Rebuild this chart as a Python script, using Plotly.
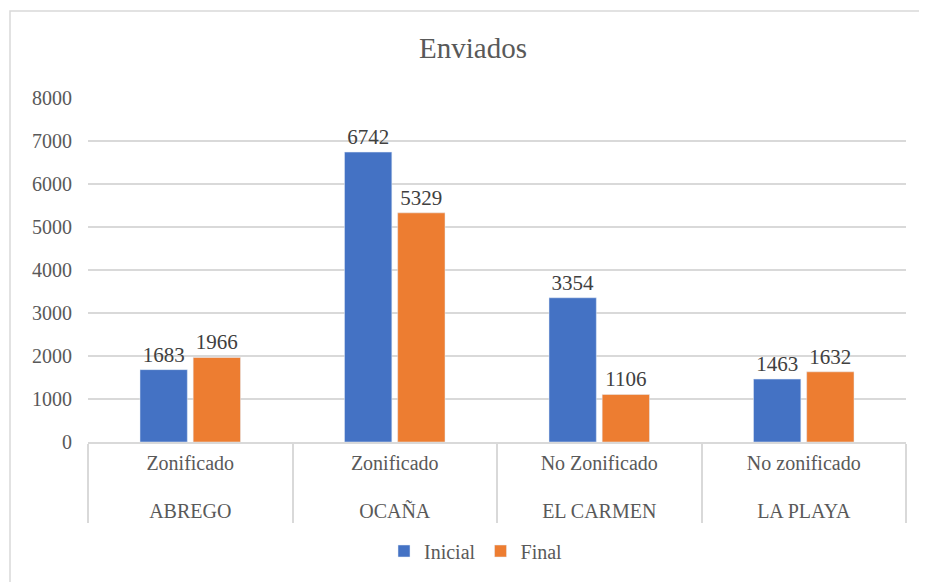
import plotly.graph_objects as go

zonas = ["Zonificado", "Zonificado", "No Zonificado", "No zonificado"]
municipios = ["ABREGO", "OCAÑA", "EL CARMEN", "LA PLAYA"]
inicial = [1683, 6742, 3354, 1463]
final = [1966, 5329, 1106, 1632]
y_ticks = [0, 1000, 2000, 3000, 4000, 5000, 6000, 7000, 8000]

FONT = "Liberation Serif"
GRAY = "#595959"
# outer level label pushed down one line, as in the reference
x = [["<br>" + m for m in municipios], zonas]

fig = go.Figure()
fig.add_trace(go.Bar(
    x=x, y=inicial, name="Inicial", marker_color="#4472C4",
    text=inicial, textposition="outside", cliponaxis=False,
    textfont=dict(family=FONT, size=21, color="#404040"),
))
fig.add_trace(go.Bar(
    x=x, y=final, name="Final", marker_color="#ED7D31",
    text=final, textposition="outside", cliponaxis=False,
    textfont=dict(family=FONT, size=21, color="#404040"),
))

OFF = 8  # page body margin
W, H = 927, 582
L, T = 88 - OFF, 98 - OFF
pw, ph = 818, 344
R, B = W - L - pw, H - T - ph

fig.update_layout(
    width=W, height=H,
    margin=dict(l=L, r=R, t=T, b=B),
    paper_bgcolor="white", plot_bgcolor="white",
    font=dict(family=FONT, color=GRAY, size=21),
    title=dict(text="Enviados", x=(473 - OFF) / W, xanchor="center", y=1 - (48 - OFF) / H, yanchor="middle",
               font=dict(family=FONT, size=29, color=GRAY)),
    barmode="group", bargap=0.48, bargroupgap=0.11,
    showlegend=True,
    legend=dict(orientation="h", x=(476 - OFF - L) / pw, xanchor="center",
                y=-(551 - OFF - (T + ph)) / ph, yanchor="middle",
                font=dict(family=FONT, size=20, color=GRAY), itemwidth=30, traceorder="normal"),
    yaxis=dict(range=[0, 8000], tickvals=y_ticks, showgrid=True, gridcolor="#d9d9d9", gridwidth=1.5,
               zeroline=False, showline=False, tickfont=dict(family=FONT, size=20, color=GRAY),
               ticks="", ticklen=0, ticklabelstandoff=15),
    xaxis=dict(type="multicategory", showline=True, linecolor="#d9d9d9", linewidth=1.5,
               showdividers=True, dividercolor="#d9d9d9", dividerwidth=1.5,
               tickfont=dict(family=FONT, size=20, color=GRAY), ticks="", ticklabelstandoff=2),
    shapes=[dict(type="rect", xref="paper", yref="paper",
                 x0=(10 - OFF - L) / pw, x1=(W + 20 - L) / pw,
                 y0=-(H + 20 - T - ph) / ph, y1=(T + ph - (11 - OFF)) / ph,
                 line=dict(color="#d9d9d9", width=1.5), fillcolor="rgba(0,0,0,0)", layer="below")],
)

fig.write_html("out.html")
